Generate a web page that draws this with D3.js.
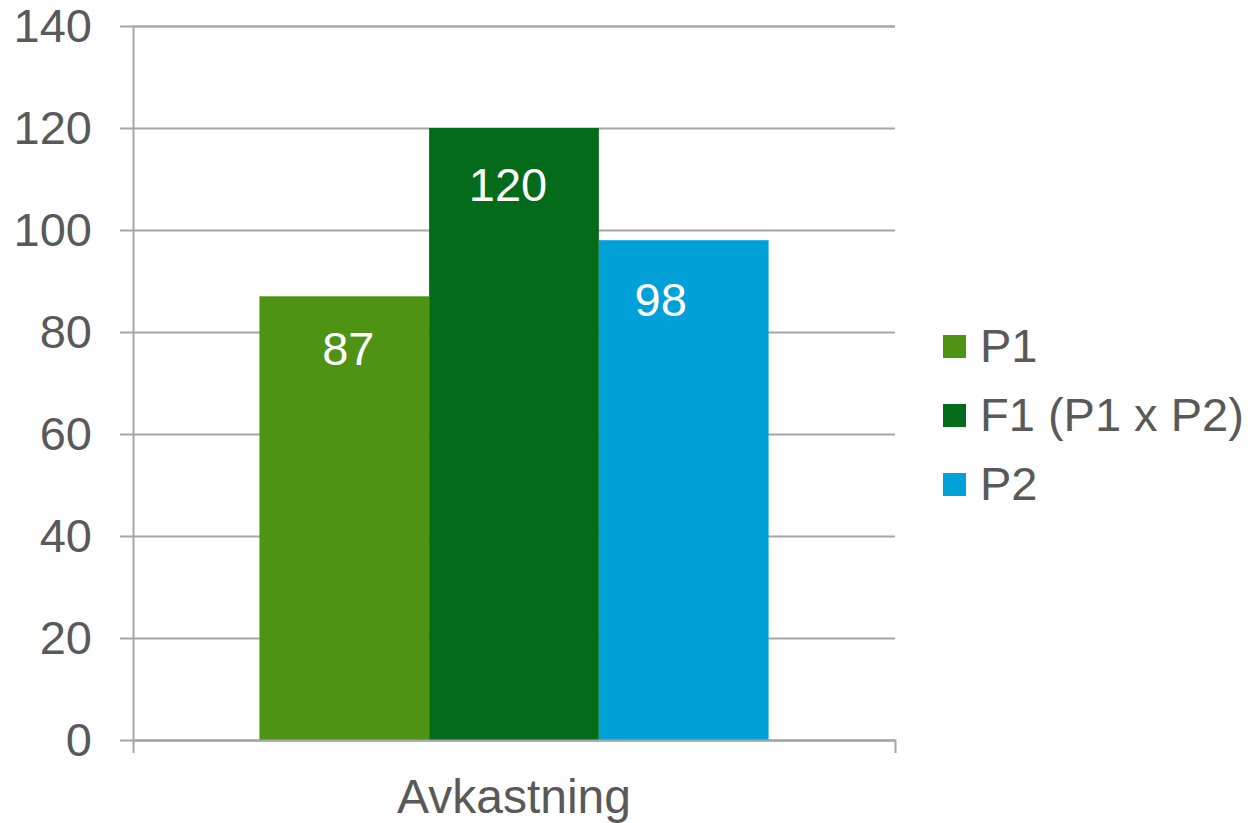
<!DOCTYPE html>
<html>
<head>
<meta charset="utf-8">
<script src="https://cdn.jsdelivr.net/npm/d3@7"></script>
<style>
  body { margin: 0; background: #fff; }
  svg text { font-family: "Liberation Sans", Arial, sans-serif; }
</style>
</head>
<body>
<svg></svg>
<script>
var categories = ['Avkastning'];
var seriesNames = ['P1', 'F1 (P1 x P2)', 'P2'];
var seriesValues = [87, 120, 98];
var seriesColors = ['#4e9314', '#036b19', '#00a0d8'];
var yTicks = [0, 20, 40, 60, 80, 100, 120, 140];

var svgWidth = 1252, svgHeight = 823;
var plotLeft = 133, plotRight = 895, plotTop = 26, plotBottom = 740;
var textColor = '#595959', gridColor = '#a6a6a6', fontSize = 47;
// value labels were nudged by hand in the original chart
var labelDx = [4, -6, -23], labelDy = [69, 73, 76];

var svg = d3.select('svg')
  .attr('width', svgWidth)
  .attr('height', svgHeight);

var yScale = d3.scaleLinear()
  .domain([0, 140])
  .range([plotBottom, plotTop]);

var x0 = d3.scaleBand()
  .domain(categories)
  .range([plotLeft, plotRight]);

var x1 = d3.scaleBand()
  .domain(seriesNames)
  .range([0, x0.bandwidth()])
  .paddingOuter(0.745);

// y axis with gridlines
var yAxis = d3.axisLeft(yScale)
  .tickValues(yTicks)
  .tickSize(-(plotRight - plotLeft))
  .tickPadding(41);

svg.append('g')
  .attr('transform', 'translate(' + plotLeft + ',0)')
  .call(yAxis)
  .call(g => g.select('.domain').attr('stroke', gridColor).attr('stroke-width', 2))
  .call(g => g.selectAll('.tick line')
    .attr('x1', -13)
    .attr('stroke', gridColor)
    .attr('stroke-width', 2))
  .call(g => g.selectAll('.tick text')
    .attr('x', -41)
    .attr('fill', textColor)
    .attr('font-size', fontSize)
    .attr('font-family', '"Liberation Sans", Arial, sans-serif'));

// bars
var bars = svg.append('g');
categories.forEach(function(cat) {
  bars.selectAll('rect')
    .data(seriesValues)
    .enter()
    .append('rect')
    .attr('x', (d, i) => x0(cat) + x1(seriesNames[i]))
    .attr('y', d => yScale(d))
    .attr('width', x1.bandwidth())
    .attr('height', d => yScale(0) - yScale(d))
    .attr('fill', (d, i) => seriesColors[i]);

  bars.selectAll('text')
    .data(seriesValues)
    .enter()
    .append('text')
    .attr('x', (d, i) => x0(cat) + x1(seriesNames[i]) + x1.bandwidth() / 2 + labelDx[i])
    .attr('y', (d, i) => yScale(d) + labelDy[i])
    .attr('text-anchor', 'middle')
    .attr('fill', '#ffffff')
    .attr('font-size', fontSize)
    .text(d => d);
});

// x axis
var xAxis = d3.axisBottom(x0)
  .tickSize(0)
  .tickSizeOuter(13);

svg.append('g')
  .attr('transform', 'translate(0,' + plotBottom + ')')
  .call(xAxis)
  .call(g => g.select('.domain').attr('stroke', gridColor).attr('stroke-width', 2))
  .call(g => g.selectAll('.tick text')
    .attr('y', 73)
    .attr('dy', 0)
    .attr('fill', textColor)
    .attr('font-size', 48)
    .attr('font-family', '"Liberation Sans", Arial, sans-serif'));

// legend
var legend = svg.append('g')
  .attr('transform', 'translate(943,346)');

var items = legend.selectAll('g')
  .data(seriesNames)
  .enter()
  .append('g')
  .attr('transform', (d, i) => 'translate(0,' + i * 69 + ')');

items.append('rect')
  .attr('x', 0)
  .attr('y', -11)
  .attr('width', 23)
  .attr('height', 23)
  .attr('fill', (d, i) => seriesColors[i]);

items.append('text')
  .attr('x', 37)
  .attr('y', 0)
  .attr('dy', '0.35em')
  .attr('fill', textColor)
  .attr('font-size', fontSize)
  .text(d => d);
</script>
</body>
</html>
